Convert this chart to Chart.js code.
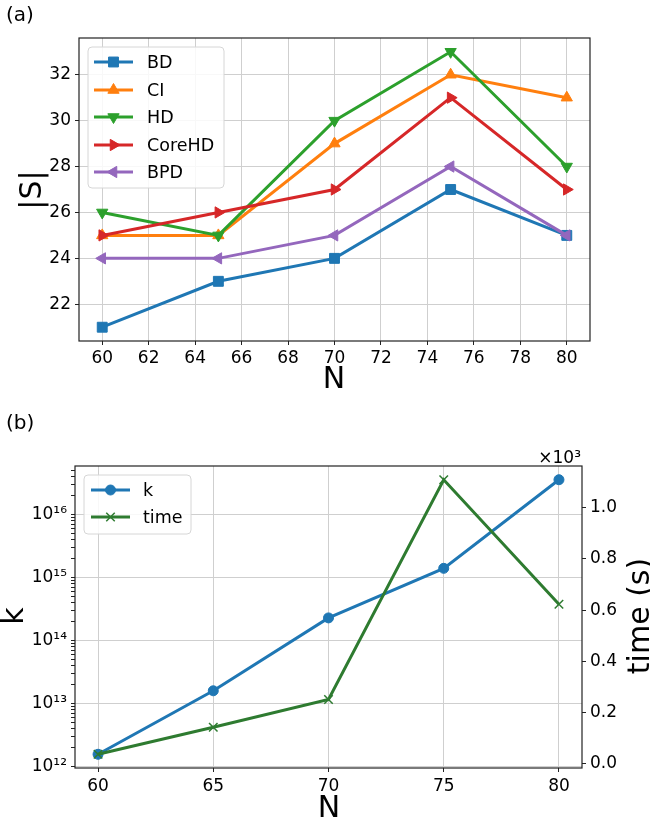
<!DOCTYPE html>
<html>
<head>
<meta charset="utf-8">
<script src="https://cdn.jsdelivr.net/npm/chart.js@4/dist/chart.umd.min.js"></script>
<style>
body { margin: 0; background: #fff; }
#wrapA { position: absolute; left: 0; top: 0; width: 650px; height: 400px; }
#wrapB { position: absolute; left: 0; top: 400px; width: 650px; height: 418px; }
</style>
</head>
<body>
<div id="wrapA"><canvas id="chartA"></canvas></div>
<div id="wrapB"><canvas id="chartB"></canvas></div>
<script>
// data
var N = [60, 65, 70, 75, 80];
var BD = [21, 23, 24, 27, 25];
var CI = [25, 25, 29, 32, 31];
var HD = [26, 25, 30, 33, 28];
var CoreHD = [25, 26, 27, 31, 27];
var BPD = [24, 24, 25, 28, 25];
var kVal = [1.57e12, 1.6e13, 2.3e14, 1.41e15, 3.6e16];
var timeVal = [36, 142, 250, 1110, 623];   // seconds

var xTicksA = [60, 62, 64, 66, 68, 70, 72, 74, 76, 78, 80];
var yTicksA = [22, 24, 26, 28, 30, 32];
var xTicksB = [60, 65, 70, 75, 80];
var timeTicks = [0, 200, 400, 600, 800, 1000];

Chart.defaults.font.family = "'DejaVu Sans', sans-serif";
Chart.defaults.font.size = 17;
Chart.defaults.color = '#000';

var GRID = '#cfcfcf';
var SUP = { '0': '⁰', '1': '¹', '2': '²', '3': '³', '4': '⁴', '5': '⁵', '6': '⁶', '7': '⁷', '8': '⁸', '9': '⁹' };

function pts(ys) {
	return N.map(function(n, i) { return { x: n, y: ys[i] }; });
}
// matplotlib style 5% margins
function padLo(a) { var lo = Math.min.apply(null, a), hi = Math.max.apply(null, a); return lo - 0.05 * (hi - lo); }
function padHi(a) { var lo = Math.min.apply(null, a), hi = Math.max.apply(null, a); return hi + 0.05 * (hi - lo); }
function setTicks(list) {
	return function(scale) { scale.ticks = list.map(function(v) { return { value: v }; }); };
}
function isMajor(v) {
	var l = Math.log10(v);
	return Math.abs(l - Math.round(l)) < 1e-6;
}

// frame, legend box and free texts
var decor = {
	id: 'decor',
	afterDatasetsDraw: function(chart, args, o) {
		var ctx = chart.ctx, a = chart.chartArea;
		ctx.save();
		ctx.strokeStyle = '#222';
		ctx.lineWidth = 1.2;
		ctx.strokeRect(a.left, a.top, a.right - a.left, a.bottom - a.top);

		var L = o.legend;
		ctx.fillStyle = 'rgba(255,255,255,0.85)';
		ctx.strokeStyle = '#d6d6d6';
		ctx.lineWidth = 1;
		ctx.beginPath();
		if (ctx.roundRect) ctx.roundRect(L.x, L.y, L.w, L.h, 4); else ctx.rect(L.x, L.y, L.w, L.h);
		ctx.fill();
		ctx.stroke();
		chart.data.datasets.forEach(function(ds, i) {
			var y = L.rows[i];
			ctx.strokeStyle = ds.borderColor;
			ctx.lineWidth = ds.borderWidth;
			ctx.beginPath();
			ctx.moveTo(L.x1, y);
			ctx.lineTo(L.x2, y);
			ctx.stroke();
			ctx.fillStyle = ds.borderColor;
			ctx.lineWidth = ds.pointBorderWidth;
			Chart.helpers.drawPoint(ctx, {
				pointStyle: ds.pointStyle, rotation: ds.pointRotation || 0,
				radius: ds.pointRadius, borderWidth: ds.pointBorderWidth
			}, (L.x1 + L.x2) / 2, y);
			ctx.fillStyle = '#000';
			ctx.font = "17.5px 'DejaVu Sans'";
			ctx.textAlign = 'left';
			ctx.textBaseline = 'middle';
			ctx.fillText(ds.label, L.tx, y + 1);
		});

		o.texts.forEach(function(t) {
			ctx.save();
			ctx.translate(t.x, t.y);
			if (t.rot) ctx.rotate(t.rot * Math.PI / 180);
			ctx.font = t.font;
			ctx.fillStyle = '#000';
			ctx.textAlign = t.align || 'center';
			ctx.textBaseline = 'alphabetic';
			ctx.fillText(t.text, 0, 0);
			ctx.restore();
		});
		ctx.restore();
	}
};

// ---- (a) |S| vs N ----
var colA = ['#1f77b4', '#ff7f0e', '#2ca02c', '#d62728', '#9467bd'];
var namesA = ['BD', 'CI', 'HD', 'CoreHD', 'BPD'];
var seriesA = [BD, CI, HD, CoreHD, BPD];
var stylesA = ['rect', 'triangle', 'triangle', 'triangle', 'triangle'];
var rotA = [0, 0, 180, 90, 270];
var radA = [7, 6.5, 6.5, 6.5, 6.5];
var allA = [].concat(BD, CI, HD, CoreHD, BPD);

new Chart(document.getElementById('chartA'), {
	type: 'line',
	data: {
		datasets: seriesA.map(function(s, i) {
			return {
				label: namesA[i], data: pts(s),
				borderColor: colA[i], backgroundColor: colA[i],
				borderWidth: 3, pointStyle: stylesA[i], pointRotation: rotA[i],
				pointRadius: radA[i], pointBorderWidth: 1,
				pointBackgroundColor: colA[i], pointBorderColor: colA[i],
				tension: 0, order: 5 - i
			};
		})
	},
	options: {
		responsive: true, maintainAspectRatio: false, animation: false,
		layout: { padding: { top: 38, right: 60, left: 0, bottom: 0 } },
		plugins: {
			legend: { display: false }, tooltip: { enabled: false },
			decor: {
				legend: { x: 88, y: 47, w: 136, h: 141, rows: [62, 90, 117, 145, 172], x1: 94, x2: 133, tx: 147 },
				texts: [
					{ text: '(a)', x: 6, y: 21, font: "20px 'DejaVu Sans'", align: 'left' },
					{ text: '|S|', x: 41, y: 190, rot: -90, font: "30px 'DejaVu Sans'" },
					{ text: 'N', x: 334, y: 388, font: "30px 'DejaVu Sans'" }
				]
			}
		},
		scales: {
			x: {
				type: 'linear', min: padLo(N), max: padHi(N),
				afterBuildTicks: setTicks(xTicksA),
				afterFit: function(s) { s.height = 59; },
				border: { display: false },
				grid: { color: GRID, tickColor: '#222', tickLength: 4 },
				ticks: { padding: 3, autoSkip: false, maxRotation: 0 }
			},
			y: {
				min: padLo(allA), max: padHi(allA),
				afterBuildTicks: setTicks(yTicksA),
				afterFit: function(s) { s.width = 79; },
				border: { display: false },
				grid: { color: GRID, tickColor: '#222', tickLength: 4 },
				ticks: { padding: 4 }
			}
		}
	},
	plugins: [decor]
});

// ---- (b) k and time vs N ----
var logK = kVal.map(Math.log10);
var kMin = Math.pow(10, padLo(logK)), kMax = Math.pow(10, padHi(logK));
var kTicks = [];
for (var e = 11; e <= 17; e++) {
	for (var m = 1; m <= 9; m++) {
		var v = m * Math.pow(10, e);
		if (v >= kMin && v <= kMax) kTicks.push(v);
	}
}
var timeColor = '#2e7b30';

new Chart(document.getElementById('chartB'), {
	type: 'line',
	data: {
		datasets: [
			{
				label: 'k', data: pts(kVal), yAxisID: 'y',
				borderColor: '#1f77b4', backgroundColor: '#1f77b4', borderWidth: 3,
				pointStyle: 'circle', pointRadius: 5, pointBorderWidth: 1,
				pointBackgroundColor: '#1f77b4', pointBorderColor: '#1f77b4', order: 2
			},
			{
				label: 'time', data: pts(timeVal), yAxisID: 'y1',
				borderColor: timeColor, backgroundColor: timeColor, borderWidth: 3,
				pointStyle: 'crossRot', pointRadius: 6, pointBorderWidth: 1.5,
				pointBackgroundColor: timeColor, pointBorderColor: timeColor, order: 1
			}
		]
	},
	options: {
		responsive: true, maintainAspectRatio: false, animation: false,
		layout: { padding: { top: 66, right: 0, left: 0, bottom: 0 } },
		plugins: {
			legend: { display: false }, tooltip: { enabled: false },
			decor: {
				legend: { x: 84, y: 75, w: 107, h: 59, rows: [90, 117], x1: 91, x2: 130, tx: 143 },
				texts: [
					{ text: '(b)', x: 6, y: 29, font: "20px 'DejaVu Sans'", align: 'left' },
					{ text: 'k', x: 23, y: 216, rot: -90, font: "30px 'DejaVu Sans'" },
					{ text: 'time (s)', x: 649, y: 216, rot: -90, font: "30px 'DejaVu Sans'" },
					{ text: 'N', x: 329, y: 417, font: "30px 'DejaVu Sans'" },
					{ text: '×10³', x: 581, y: 63, font: "17px 'DejaVu Sans'", align: 'right' }
				]
			}
		},
		scales: {
			x: {
				type: 'linear', min: padLo(N), max: padHi(N),
				afterBuildTicks: setTicks(xTicksB),
				afterFit: function(s) { s.height = 50; },
				border: { display: false },
				grid: { color: GRID, tickColor: '#222', tickLength: 4 },
				ticks: { padding: 4, autoSkip: false, maxRotation: 0 }
			},
			y: {
				type: 'logarithmic', position: 'left', min: kMin, max: kMax,
				afterBuildTicks: setTicks(kTicks),
				afterFit: function(s) { s.width = 75; },
				border: { display: false },
				grid: {
					color: function(c) { return c.tick && isMajor(c.tick.value) ? GRID : 'rgba(0,0,0,0)'; },
					tickColor: '#222', tickLength: 4
				},
				ticks: {
					padding: 4, autoSkip: false,
					callback: function(v) {
						if (!isMajor(v)) return '';
						var ex = String(Math.round(Math.log10(v)));
						return '10' + ex.split('').map(function(d) { return SUP[d]; }).join('');
					}
				}
			},
			y1: {
				position: 'right', min: padLo(timeVal), max: padHi(timeVal),
				afterBuildTicks: setTicks(timeTicks),
				afterFit: function(s) { s.width = 68; },
				border: { display: false },
				grid: { drawOnChartArea: false, tickColor: '#222', tickLength: 4 },
				ticks: {
					padding: 4,
					callback: function(v) { return (v / 1000).toFixed(1); }
				}
			}
		}
	},
	plugins: [decor]
});
</script>
</body>
</html>
